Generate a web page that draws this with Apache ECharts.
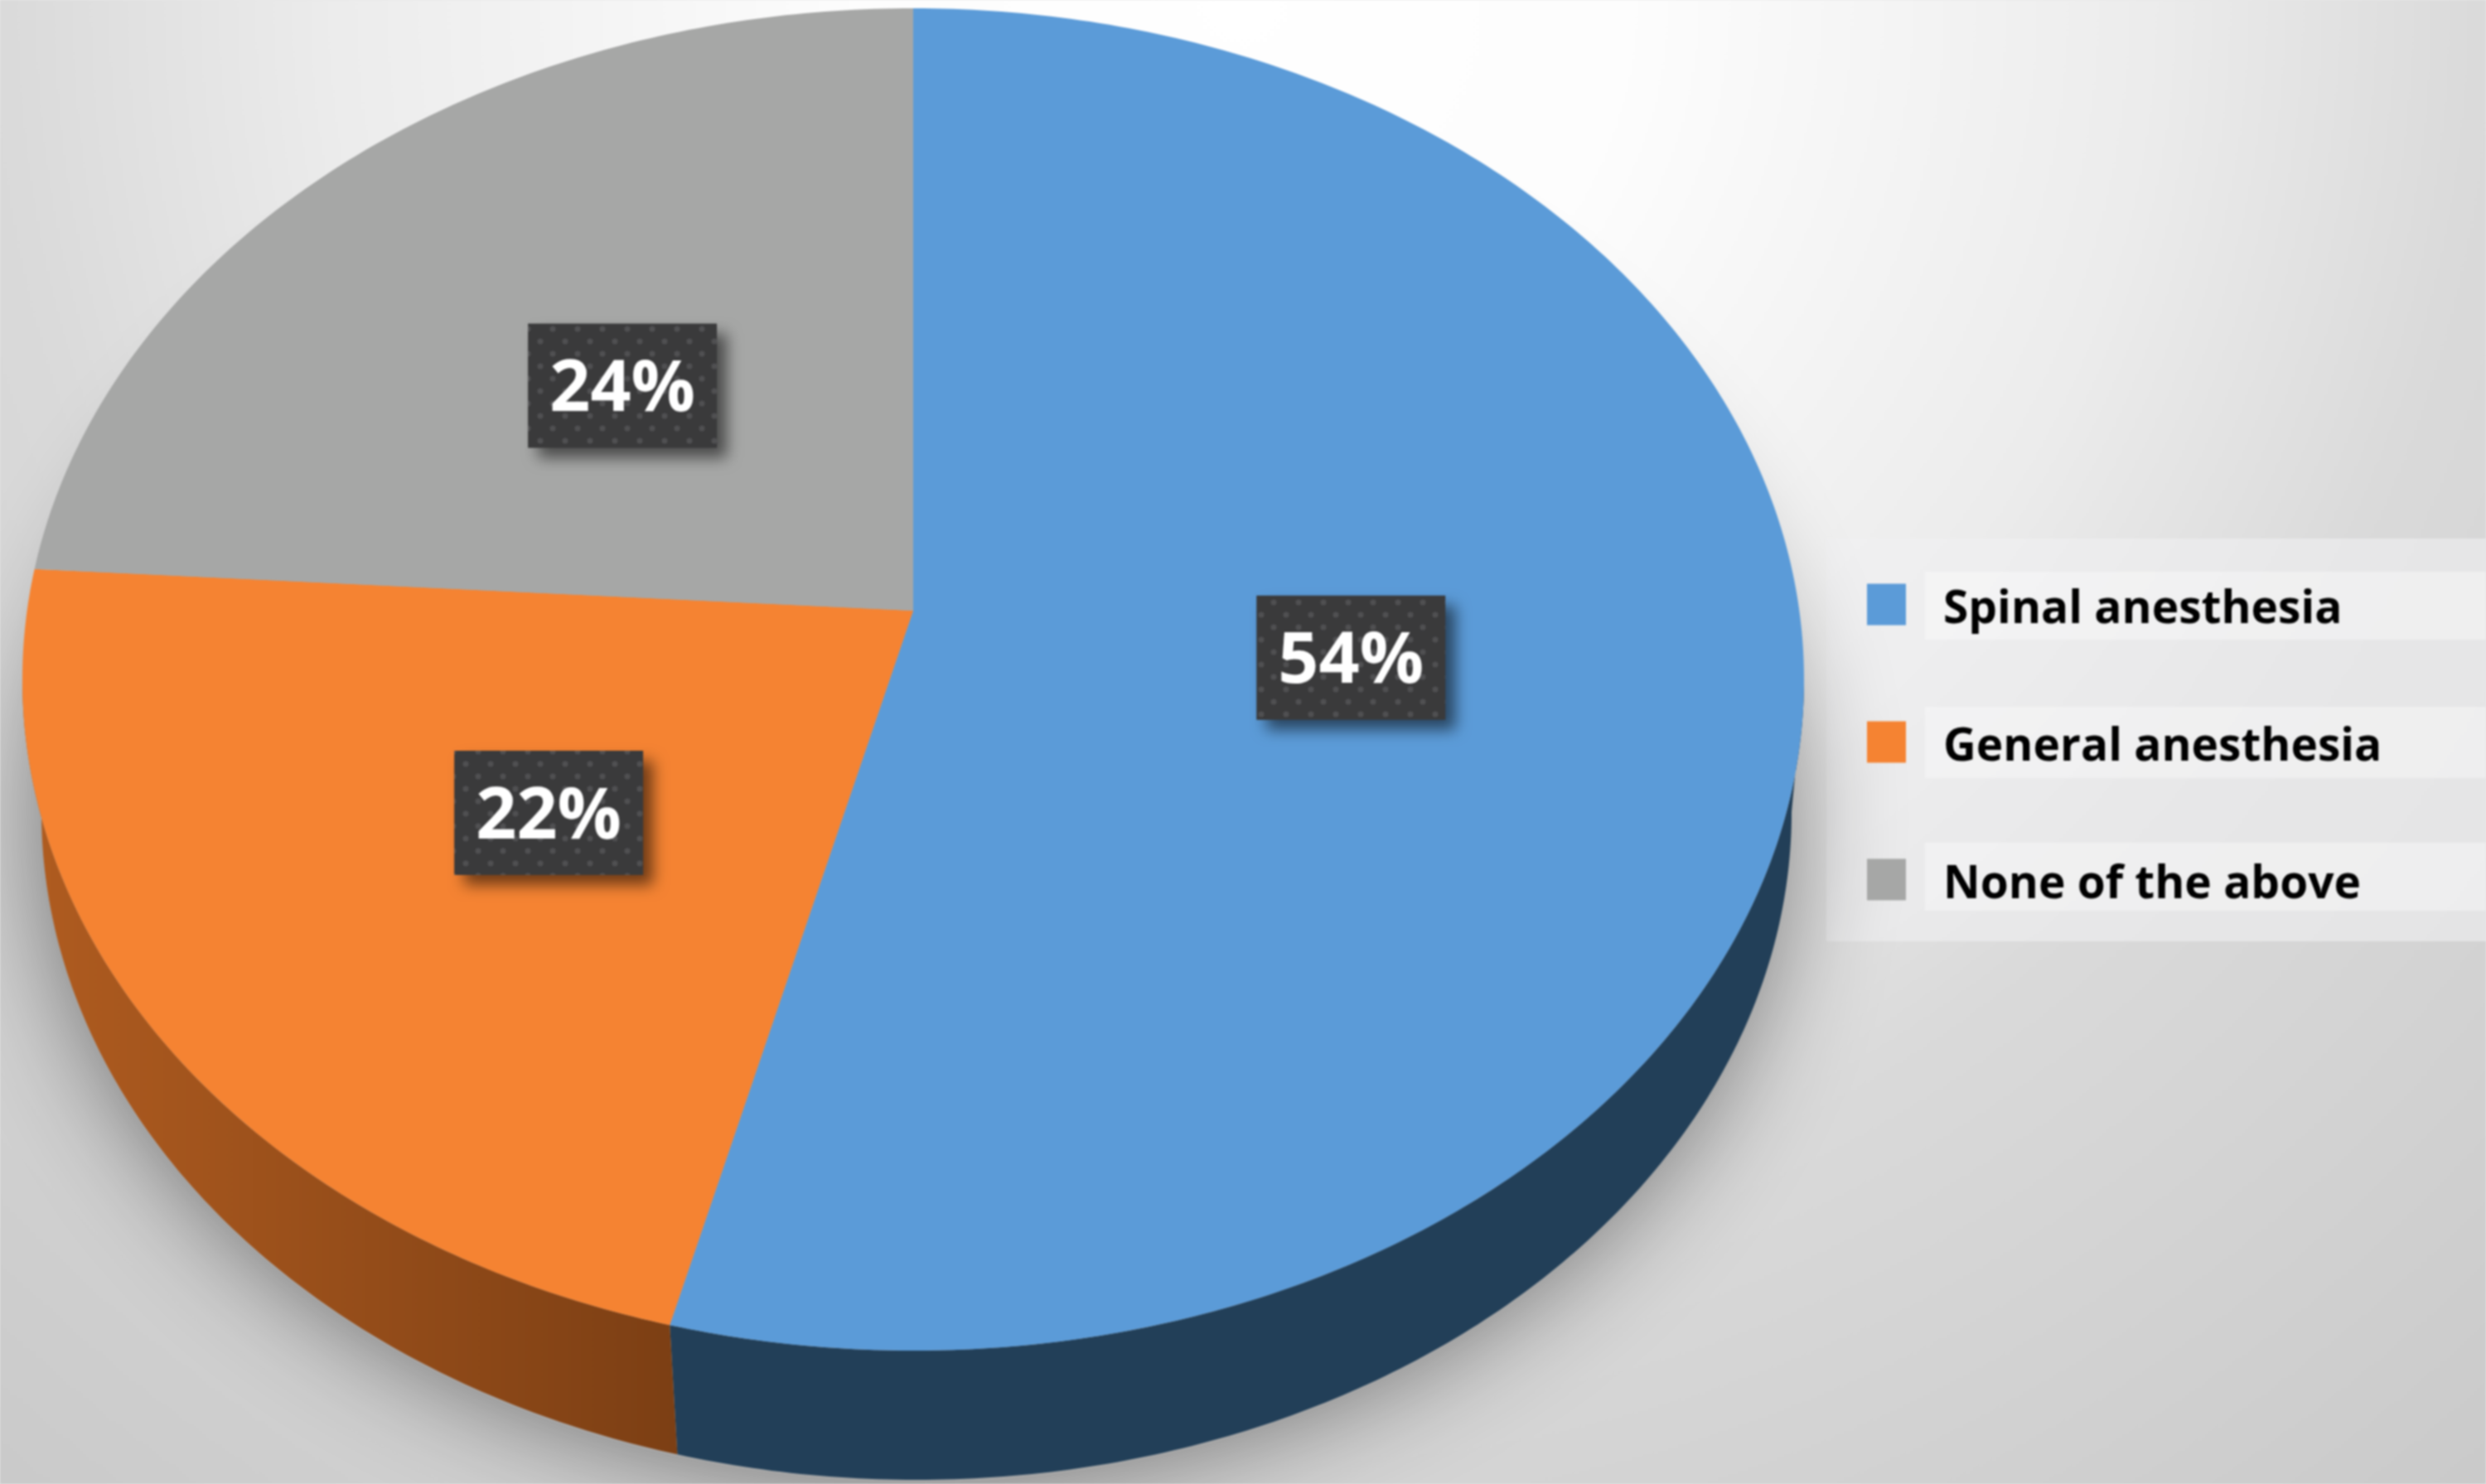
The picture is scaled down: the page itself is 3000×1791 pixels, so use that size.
<!DOCTYPE html>
<html><head><meta charset="utf-8">
<style>html,body{margin:0;padding:0;background:#e8e8e8}#c{width:3000px;height:1791px;filter:blur(1px)}</style>
<script src="https://cdn.jsdelivr.net/npm/echarts@6/dist/echarts.min.js"></script>
</head><body><div id="c"></div>
<script>
const categories = ['Spinal anesthesia', 'General anesthesia', 'None of the above'];
const shares = [54, 22, 24];
const topColors = ['#5b9bd8', '#f58332', '#a6a7a6'];

const FACE = {cx: 1102, cy: 820, rx: 1075, ry: 810, vx: 1102, vy: 737};
const BASE = {cx: 1106, cy: 980, rx: 1056, ry: 806};
const SHADOW = {cx: 1106, cy: 982, rx: 1056, ry: 806};
const total = shares.reduce((a, b) => a + b, 0);

function edgeParam(theta) {
  const dx = Math.sin(theta) * FACE.rx, dy = -Math.cos(theta) * FACE.ry;
  const ox = (FACE.vx - FACE.cx) / FACE.rx, oy = (FACE.vy - FACE.cy) / FACE.ry;
  const ax = dx / FACE.rx, ay = dy / FACE.ry;
  const a = ax * ax + ay * ay, b = 2 * (ox * ax + oy * ay), c = ox * ox + oy * oy - 1;
  const t = (-b + Math.sqrt(b * b - 4 * a * c)) / (2 * a);
  const px = FACE.vx + dx * t, py = FACE.vy + dy * t;
  let phi = Math.atan2((px - FACE.cx) / FACE.rx, -(py - FACE.cy) / FACE.ry);
  if (phi < 0) phi += Math.PI * 2;
  return phi;
}
function onE(e, phi) { return [e.cx + e.rx * Math.sin(phi), e.cy - e.ry * Math.cos(phi)]; }
function arc(e, a, b) {
  const n = Math.max(8, Math.ceil(Math.abs(b - a) * 90)), out = [];
  for (let i = 0; i <= n; i++) out.push(onE(e, a + (b - a) * i / n));
  return out;
}
const dotCanvas = document.createElement('canvas');
dotCanvas.width = dotCanvas.height = 30;
(function () {
  const g = dotCanvas.getContext('2d');
  g.fillStyle = '#3a3a3b'; g.fillRect(0, 0, 30, 30);
  g.fillStyle = '#505052';
  [[7, 7], [22, 22]].forEach(p => { g.beginPath(); g.arc(p[0], p[1], 3.5, 0, 7); g.fill(); });
})();
const labelReach = [0.5, 0.5, 0.47];

function renderSlice(params, api) {
  const i = params.seriesIndex;
  const before = shares.slice(0, i).reduce((a, b) => a + b, 0);
  const t0 = before / total * Math.PI * 2, t1 = (before + api.value(0)) / total * Math.PI * 2;
  const p0 = edgeParam(t0 === 0 ? 1e-6 : t0), p1 = edgeParam(t1 >= Math.PI * 2 - 1e-6 ? Math.PI * 2 - 1e-6 : t1);
  const children = [];
  if (i === 0) {
    children.push({type: 'polygon', silent: true, shape: {points: arc(SHADOW, 0, Math.PI * 2)},
      style: {fill: '#a9a9a9', shadowBlur: 130, shadowColor: 'rgba(0,0,0,0.48)', shadowOffsetX: 0, shadowOffsetY: 0}});
  }
  const a = Math.max(p0, Math.PI / 2), b = Math.min(p1, Math.PI * 1.5);
  if (b > a) {
    const wall = arc(FACE, a, b).concat(arc(BASE, b, a));
    const fill = i === 1
      ? {type: 'linear', x: 0, y: 0, x2: 1, y2: 0, colorStops: [{offset: 0, color: '#b05c20'}, {offset: 1, color: '#7c3f14'}]}
      : '#223f58';
    children.push({type: 'polygon', shape: {points: wall}, style: {fill: fill}});
  }
  children.push({type: 'polygon', shape: {points: [[FACE.vx, FACE.vy]].concat(arc(FACE, p0, p1))},
    style: {fill: topColors[i]}});
  const mid = (t0 + t1) / 2;
  const lx = FACE.vx + Math.sin(mid) * FACE.rx * labelReach[i] - 5;
  const ly = FACE.vy - Math.cos(mid) * FACE.ry * labelReach[i] + 6;
  children.push({type: 'rect', shape: {x: lx - 114, y: ly - 75, width: 228, height: 150},
    style: {fill: {image: dotCanvas, repeat: 'repeat'}, shadowBlur: 18, shadowColor: 'rgba(0,0,0,0.55)', shadowOffsetX: 12, shadowOffsetY: 12}});
  children.push({type: 'text', style: {x: lx, y: ly + 6, text: api.value(0) + '%', fill: '#ffffff',
    align: 'center', verticalAlign: 'middle', font: '700 86px "Open Sans"'}});
  return {type: 'group', children: children};
}

const bands = [[690, 82], [853, 86], [1017, 82]];
const chart = echarts.init(document.getElementById('c'), null, {renderer: 'canvas'});
chart.setOption({
  animation: false,
  backgroundColor: {type: 'radial', x: 0.5, y: 0, r: 1.304,
    colorStops: [{offset: 0, color: '#ffffff'}, {offset: 0.2, color: '#fdfdfd'}, {offset: 0.47, color: '#ececec'},
      {offset: 0.64, color: '#dadada'}, {offset: 1, color: '#cacaca'}]},
  graphic: [
    {type: 'rect', z: -1, silent: true, shape: {x: 2204, y: 650, width: 796, height: 486}, style: {fill: 'rgba(240,240,242,0.6)'}}
  ].concat(bands.map(b => ({type: 'rect', z: -1, silent: true, shape: {x: 2323, y: b[0], width: 677, height: b[1]}, style: {fill: 'rgba(255,255,255,0.35)'}}))),
  legend: {
    data: categories, orient: 'vertical', left: 2248, top: 690, itemWidth: 47, itemHeight: 50, itemGap: 97,
    icon: 'rect', selectedMode: false,
    formatter: n => '{t|' + n + '}',
    textStyle: {color: '#000', rich: {t: {color: '#000', fontFamily: 'Open Sans', fontWeight: 700, fontSize: 55, lineHeight: 67, padding: [14, 0, 0, 40]}}}
  },
  series: categories.map((name, i) => ({
    type: 'custom', name: name, coordinateSystem: 'none', renderItem: renderSlice,
    itemStyle: {color: topColors[i]}, data: [{name: name, value: shares[i]}]
  }))
});
</script></body></html>
